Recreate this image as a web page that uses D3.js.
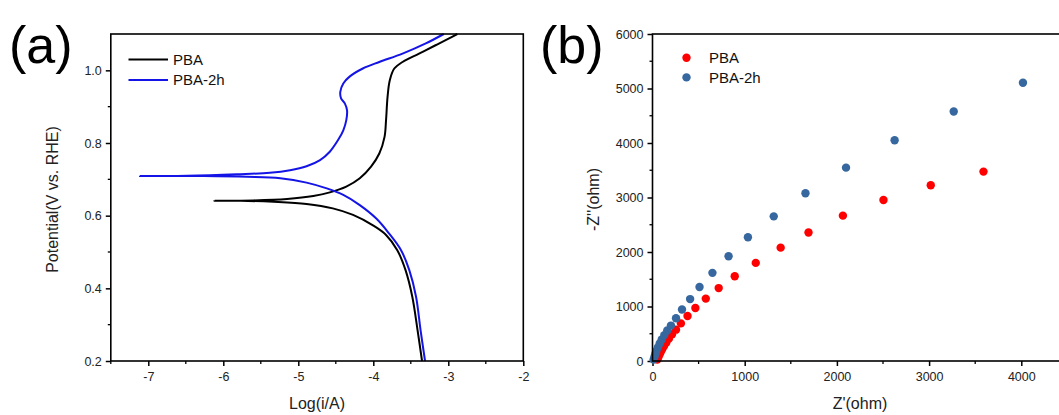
<!DOCTYPE html>
<html>
<head>
<meta charset="utf-8">
<script src="https://cdn.jsdelivr.net/npm/d3@7"></script>
<style>
  html, body { margin: 0; padding: 0; background: #fff; }
  svg { display: block; font-family: "Liberation Sans", Arial, sans-serif; }
</style>
</head>
<body>
<svg id="chart" width="1059" height="415"></svg>
<script>
// ---------- Data: panel (a) Tafel curves [log(i/A), E (V vs RHE)] ----------
const tafelSeries = ["PBA", "PBA-2h"];
const pbaTafel = [
  [-3.35,0.200],[-3.41,0.285],[-3.48,0.377],[-3.57,0.450],[-3.68,0.505],[-3.83,0.547],
  [-4.01,0.574],[-4.27,0.602],[-4.54,0.620],[-4.89,0.632],[-5.33,0.638],[-5.77,0.641],
  [-6.12,0.641],
  [-5.60,0.642],[-5.15,0.646],[-4.80,0.654],[-4.58,0.664],[-4.36,0.680],[-4.18,0.703],
  [-4.03,0.735],[-3.92,0.771],[-3.85,0.817],[-3.83,0.863],[-3.81,0.927],[-3.78,0.973],
  [-3.72,1.005],[-3.61,1.023],[-3.39,1.046],[-3.17,1.069],[-2.99,1.088],[-2.88,1.100]
];
const pba2hTafel = [
  [-3.31,0.200],[-3.37,0.285],[-3.43,0.377],[-3.52,0.450],[-3.63,0.505],[-3.79,0.551],
  [-3.96,0.592],[-4.18,0.629],[-4.40,0.657],[-4.62,0.675],[-4.89,0.691],[-5.24,0.703],
  [-5.68,0.707],[-6.26,0.709],[-7.11,0.709],
  [-6.48,0.710],[-5.82,0.714],[-5.38,0.718],[-5.11,0.725],[-4.89,0.736],[-4.71,0.753],
  [-4.58,0.776],[-4.47,0.808],[-4.40,0.835],[-4.36,0.863],[-4.35,0.890],[-4.38,0.909],
  [-4.43,0.923],[-4.44,0.941],[-4.40,0.964],[-4.32,0.982],[-4.14,1.005],[-3.92,1.023],
  [-3.61,1.046],[-3.30,1.074],[-3.06,1.100]
];
const tafelXTicks = [-7, -6, -5, -4, -3, -2];
const tafelYTicks = [0.2, 0.4, 0.6, 0.8, 1.0];

// ---------- Data: panel (b) Nyquist points [Z' (ohm), -Z'' (ohm)] ----------
const nyqSeries = ["PBA", "PBA-2h"];
const pbaNyq = [
  [52,25],[62,65],[74,110],[88,160],[105,215],[125,275],[150,340],[178,410],[212,490],
  [255,575],[308,690],[380,825],[465,972],[578,1145],[718,1338],[892,1555],[1120,1800],
  [1390,2080],[1692,2358],[2065,2667],[2505,2954],[3018,3224],[3590,3475]
];
const pba2hNyq = [
  [12,25],[20,70],[30,125],[42,185],[58,250],[78,320],[100,395],[128,475],[160,560],
  [200,650],[255,784],[320,946],[408,1136],[510,1357],[650,1617],[825,1922],[1035,2272],
  [1315,2654],[1659,3077],[2099,3548],[2626,4051],[3267,4578],[4018,5105]
];
const nyqXTicks = [0, 1000, 2000, 3000, 4000];
const nyqYTicks = [0, 1000, 2000, 3000, 4000, 5000, 6000];

// ---------- Drawing ----------
const svg = d3.select("#chart");
const tickFont = 12.5, titleFont = 16, legFont = 15;
const hyphen = f => v => f(v).replace("\u2212", "-");

function frame(g, x, y) {
  const [x0, x1] = x.range(), [y0, y1] = y.range();
  g.append("rect").attr("x", x0).attr("y", y1).attr("width", x1 - x0).attr("height", y0 - y1)
    .attr("fill", "none").attr("stroke", "#000").attr("stroke-width", 1.6);
}
function styleAxis(sel) {
  sel.select(".domain").remove();
  sel.selectAll(".tick line").attr("stroke", "#000").attr("stroke-width", 1.5);
  sel.selectAll(".tick text").attr("fill", "#222").style("font-size", tickFont + "px")
    .style("font-family", '"Liberation Sans", Arial, sans-serif');
}
function minorTicks(g, scale, values, orient, pos) {
  values.forEach(v => {
    const p = scale(v);
    if (orient === "bottom") g.append("line").attr("x1", p).attr("x2", p).attr("y1", pos).attr("y2", pos + 3).attr("stroke", "#000").attr("stroke-width", 1.3);
    else g.append("line").attr("y1", p).attr("y2", p).attr("x1", pos).attr("x2", pos - 3).attr("stroke", "#000").attr("stroke-width", 1.3);
  });
}

// Panel (a)
{
  const x = d3.scaleLinear().domain([-7.5, -2]).range([110.8, 523.3]);
  const y = d3.scaleLinear().domain([0.2, 1.1]).range([361, 34]);
  const g = svg.append("g");
  const xa = g.append("g").attr("transform", `translate(0,${y.range()[0]})`)
    .call(d3.axisBottom(x).tickValues(tafelXTicks).tickSize(5).tickPadding(6).tickFormat(hyphen(d3.format("d"))));
  styleAxis(xa);
  const ya = g.append("g").attr("transform", `translate(${x.range()[0]},0)`)
    .call(d3.axisLeft(y).tickValues(tafelYTicks).tickSize(5).tickPadding(4).tickFormat(d3.format(".1f")));
  styleAxis(ya);
  minorTicks(g, x, [-7.5, -6.5, -5.5, -4.5, -3.5, -2.5], "bottom", y.range()[0]);
  minorTicks(g, y, [0.3, 0.5, 0.7, 0.9], "left", x.range()[0]);

  const line = d3.line().x(d => x(d[0])).y(d => y(d[1])).curve(d3.curveCatmullRom.alpha(0.5));
  const cols = ["#000000", "#1414e6"];
  [pbaTafel, pba2hTafel].forEach((s, i) => {
    g.append("path").datum(s).attr("d", line).attr("fill", "none")
      .attr("stroke", cols[i]).attr("stroke-width", 2);
  });
  frame(g, x, y);

  // legend
  tafelSeries.forEach((name, i) => {
    const ly = 59.5 + i * 20.5;
    g.append("line").attr("x1", 128.5).attr("x2", 168).attr("y1", ly).attr("y2", ly)
      .attr("stroke", cols[i]).attr("stroke-width", 2);
    g.append("text").attr("x", 173).attr("y", ly + 5.3).text(name)
      .style("font-size", legFont + "px").attr("fill", "#111");
  });

  g.append("text").attr("x", (x.range()[0] + x.range()[1]) / 2).attr("y", 409)
    .attr("text-anchor", "middle").style("font-size", titleFont + "px").attr("fill", "#222").text("Log(i/A)");
  g.append("text").attr("transform", `translate(58,${(y.range()[0] + y.range()[1]) / 2 + 2}) rotate(-90)`)
    .attr("text-anchor", "middle").style("font-size", titleFont + "px").attr("fill", "#222")
    .text("Potential(V vs. RHE)");
  g.append("text").attr("x", 9).attr("y", 63).style("font-size", "52px").attr("fill", "#000").text("(a)");
}

// Panel (b)
{
  const x = d3.scaleLinear().domain([0, 4500]).range([652.5, 1067.4]);
  const y = d3.scaleLinear().domain([0, 6000]).range([361, 34]);
  const g = svg.append("g");
  const xa = g.append("g").attr("transform", `translate(0,${y.range()[0]})`)
    .call(d3.axisBottom(x).tickValues(nyqXTicks).tickSize(5).tickPadding(6).tickFormat(d3.format("d")));
  styleAxis(xa);
  const ya = g.append("g").attr("transform", `translate(${x.range()[0]},0)`)
    .call(d3.axisLeft(y).tickValues(nyqYTicks).tickSize(5).tickPadding(4).tickFormat(d3.format("d")));
  styleAxis(ya);
  minorTicks(g, x, [500, 1500, 2500, 3500], "bottom", y.range()[0]);
  minorTicks(g, y, [500, 1500, 2500, 3500, 4500, 5500], "left", x.range()[0]);

  const cols = ["#ff0000", "#36679e"];
  [pbaNyq, pba2hNyq].forEach((s, i) => {
    g.append("g").selectAll("circle").data(s).join("circle")
      .attr("cx", d => x(d[0])).attr("cy", d => y(d[1])).attr("r", 4.2).attr("fill", cols[i]);
  });
  frame(g, x, y);

  nyqSeries.forEach((name, i) => {
    const ly = 57.8 + i * 19.6;
    g.append("circle").attr("cx", 686.5).attr("cy", ly).attr("r", 4.2).attr("fill", cols[i]);
    g.append("text").attr("x", 709).attr("y", ly + 5.3).text(name)
      .style("font-size", legFont + "px").attr("fill", "#111");
  });

  g.append("text").attr("x", 860).attr("y", 409)
    .attr("text-anchor", "middle").style("font-size", titleFont + "px").attr("fill", "#222").text("Z'(ohm)");
  g.append("text").attr("transform", `translate(599,${(y.range()[0] + y.range()[1]) / 2 + 2}) rotate(-90)`)
    .attr("text-anchor", "middle").style("font-size", titleFont + "px").attr("fill", "#222")
    .text("-Z''(ohm)");
  g.append("text").attr("x", 540).attr("y", 63).style("font-size", "52px").attr("fill", "#000").text("(b)");
}
</script>
</body>
</html>
